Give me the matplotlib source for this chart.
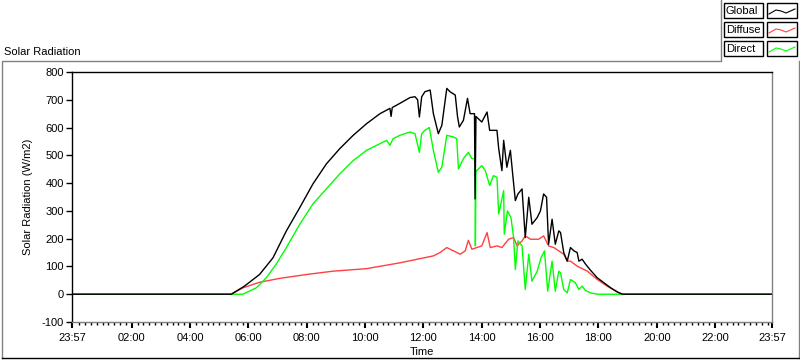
import matplotlib
matplotlib.use('Agg')
import matplotlib.pyplot as plt
from matplotlib.patches import Rectangle
from matplotlib.lines import Line2D
import numpy as np

plt.rcParams['font.family'] = ['Liberation Sans', 'DejaVu Sans']
plt.rcParams['font.size'] = 8
plt.rcParams['axes.unicode_minus'] = False

# time in decimal hours (23:57 of previous day = -0.05), values in W/m2
global_t = [-0.05, 5.41, 5.86, 6.38, 6.84, 7.30, 7.76, 8.21, 8.67, 9.13, 9.59, 10.05, 10.51,
            10.85, 10.89, 10.93, 11.19, 11.54, 11.71, 11.80, 11.86, 11.94, 12.05, 12.23, 12.34,
            12.51, 12.63, 12.80, 12.91, 13.09, 13.17, 13.23, 13.37, 13.51, 13.60, 13.75, 13.77,
            13.80, 14.00, 14.18, 14.27, 14.52, 14.58, 14.69, 14.75, 14.86, 14.98, 15.07, 15.15,
            15.24, 15.38, 15.49, 15.61, 15.72, 15.90, 16.01, 16.12, 16.22, 16.29, 16.41, 16.52,
            16.64, 16.70, 16.81, 16.93, 17.04, 17.16, 17.27, 17.33, 17.44, 17.56, 17.73, 17.96,
            18.19, 18.42, 18.65, 18.82, 23.95]
global_v = [0, 0, 29, 71, 131, 228, 312, 397, 469, 524, 572, 614, 650,
            669, 640, 672, 687, 708, 711, 700, 638, 711, 729, 735, 650,
            578, 608, 741, 729, 717, 638, 602, 626, 705, 650, 650, 343,
            640, 620, 656, 590, 590, 524, 445, 554, 457, 518, 421, 337,
            361, 379, 204, 349, 252, 276, 300, 361, 349, 180, 270, 180,
            228, 222, 150, 119, 168, 156, 150, 119, 126, 108, 86, 59,
            41, 23, 8, 0, 0]

direct_t = [-0.05, 5.81, 6.27, 6.61, 6.95, 7.30, 7.76, 8.21, 8.67, 9.13, 9.59, 10.05, 10.51,
            10.74, 10.85, 10.96, 11.19, 11.54, 11.71, 11.86, 11.94, 12.05, 12.20, 12.34, 12.51,
            12.63, 12.80, 13.03, 13.14, 13.20, 13.37, 13.54, 13.66, 13.77, 13.78, 13.80, 13.83,
            14.00, 14.12, 14.27, 14.40, 14.52, 14.58, 14.75, 14.77, 14.88, 15.00, 15.09, 15.15,
            15.24, 15.38, 15.49, 15.61, 15.72, 15.90, 16.03, 16.15, 16.26, 16.41, 16.52, 16.64,
            16.70, 16.81, 16.93, 17.04, 17.21, 17.33, 17.44, 17.56, 17.73, 17.96, 23.95]
direct_v = [0, 0, 23, 59, 108, 168, 252, 325, 379, 433, 481, 518, 542,
            554, 536, 560, 572, 584, 578, 511, 578, 590, 600, 518, 439,
            457, 572, 566, 560, 451, 488, 511, 488, 488, 174, 445, 445,
            463, 445, 391, 427, 421, 289, 373, 216, 300, 276, 204, 89,
            192, 174, 17, 144, 47, 83, 131, 156, 11, 119, 11, 83,
            77, 17, 5, 53, 41, 17, 29, 13, 5, 0, 0]

diffuse_t = [-0.05, 5.41, 5.81, 6.38, 7.07, 7.99, 8.90, 10.05, 11.19, 12.34, 12.57, 12.80,
             13.03, 13.26, 13.43, 13.54, 13.66, 13.83, 14.00, 14.18, 14.29, 14.52, 14.69,
             14.92, 15.09, 15.21, 15.38, 15.49, 15.67, 15.95, 16.12, 16.29, 16.47, 16.81,
             16.93, 17.04, 17.27, 17.62, 17.96, 18.30, 18.65, 18.82, 23.95]
diffuse_v = [0, 0, 23, 43, 57, 71, 83, 92, 113, 138, 150, 168,
             156, 144, 156, 194, 162, 168, 174, 222, 168, 174, 168,
             198, 204, 174, 192, 210, 198, 198, 210, 174, 168, 144,
             119, 119, 101, 83, 53, 29, 8, 0, 0]

major_ticks = [-0.05, 2, 4, 6, 8, 10, 12, 14, 16, 18, 20, 22, 23.95]
major_labels = ['23:57', '02:00', '04:00', '06:00', '08:00', '10:00', '12:00',
                '14:00', '16:00', '18:00', '20:00', '22:00', '23:57']

W, H = 800, 361
fig = plt.figure(figsize=(W / 100, H / 100), dpi=100)
ax = fig.add_axes([72 / W, 1 - 322 / H, 700 / W, 250 / H])

ax.plot(diffuse_t, diffuse_v, color='#ff4040', lw=1.0)
ax.plot(direct_t, direct_v, color='#00ff00', lw=1.0)
ax.plot(global_t, global_v, color='black', lw=1.0)

ax.set_xlim(-0.05, 23.95)
ax.set_ylim(-100, 800)
ax.set_yticks(range(-100, 801, 100))
ax.set_xticks(major_ticks)
ax.set_xticklabels(major_labels)
ax.set_xticks(np.arange(0.2, 23.9, 0.2), minor=True)
ax.tick_params(axis='y', direction='out', length=4, width=1, pad=2, labelsize=8)
ax.tick_params(axis='x', which='major', direction='out', length=4, width=1.5, pad=4, labelsize=8)
ax.tick_params(axis='x', which='minor', direction='out', length=2, width=1)

ax.spines['left'].set_color('black')
ax.spines['top'].set_color('black')
ax.spines['right'].set_color('#808080')
ax.spines['bottom'].set_color('#808080')
for s in ax.spines.values():
    s.set_linewidth(1)

ax.set_xlabel('Time', fontsize=8, labelpad=3)
ax.set_ylabel('Solar Radiation (W/m2)', fontsize=8, labelpad=6)

fig.text(4 / W, 1 - 52 / H, 'Solar Radiation', fontsize=8, va='center', ha='left')


def fx(x):
    return x / W


def fy(y):
    return 1 - y / H


# outer frame
fig.add_artist(Line2D([fx(2), fx(2), fx(721), fx(721)], [fy(358), fy(61), fy(61), fy(0)],
                      color='#808080', lw=1, transform=fig.transFigure))
fig.add_artist(Line2D([fx(799), fx(799)], [fy(61), fy(358)],
                      color='#808080', lw=1, transform=fig.transFigure))
fig.add_artist(Line2D([fx(2), fx(799)], [fy(358), fy(358)],
                      color='black', lw=1, transform=fig.transFigure))

# legend
legend_names = ['Global', 'Diffuse', 'Direct']
legend_colors = ['black', '#ff4040', '#00ff00']
row_tops = [3, 22, 41]
for name, col, top in zip(legend_names, legend_colors, row_tops):
    bh = 15
    fig.add_artist(Rectangle((fx(724), fy(top + bh)), 39 / W, bh / H, transform=fig.transFigure,
                             facecolor='white', edgecolor='black', lw=1))
    fig.text(fx(726), fy(top + bh / 2 + 0.5), name, fontsize=8, va='center', ha='left')
    fig.add_artist(Rectangle((fx(767), fy(top + bh)), 30 / W, bh / H, transform=fig.transFigure,
                             facecolor='white', edgecolor='black', lw=1))
    zx = [769, 776, 781, 786, 795]
    zy = [top + 11, top + 7, top + 8, top + 10, top + 6]
    fig.add_artist(Line2D([fx(v) for v in zx], [fy(v) for v in zy], color=col, lw=0.8,
                          transform=fig.transFigure))

fig.savefig('out.png', dpi=100)
